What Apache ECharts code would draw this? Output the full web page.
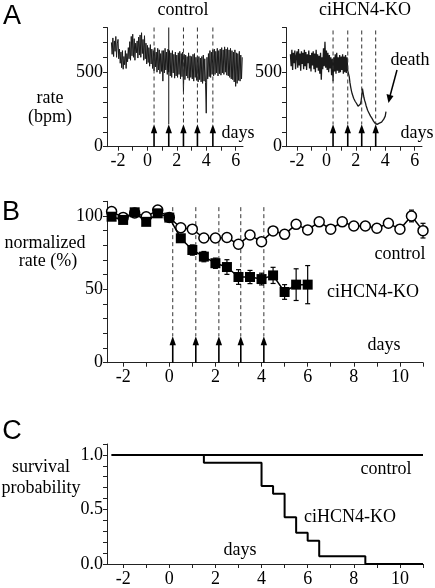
<!DOCTYPE html>
<html><head><meta charset="utf-8">
<script src="https://cdn.jsdelivr.net/npm/echarts@6/dist/echarts.min.js"></script>
<style>html,body{margin:0;padding:0;background:#fff}#c{width:435px;height:588px}</style>
</head><body><div id="c"></div>
<script>
// ---------- Panel A: raw heart-rate traces (bpm), sampled every 0.05 day from -2.45 ----------
const traceStartDay = -2.45;
const traceStepDay = 0.05;
const ctrlTrace = [
  700,620,730,605,710,640,740,600,690,720,
  590,655,560,635,530,645,520,605,550,645,
  525,625,570,665,590,705,580,740,610,755,
  600,725,580,695,630,710,595,735,615,750,
  600,765,625,720,580,745,590,695,555,680,
  565,665,540,685,555,655,525,645,510,665,
  535,635,500,660,515,650,490,625,505,645,
  440,645,495,660,515,635,485,655,500,645,
  475,630,465,645,495,620,460,635,475,615,
  465,630,485,640,455,625,470,635,370,620,
  450,615,475,605,460,630,445,610,465,605,
  455,620,440,625,465,600,445,610,435,605,
  450,595,435,605,425,615,440,590,430,225,
  600,455,625,470,645,465,635,485,650,475,
  655,485,640,495,660,475,645,490,655,480,
  665,495,650,485,670,500,655,480,665,475,
  650,465,660,455,645,450,635,435,650,405,
  630,425,625,445,640,440,615,455,600];
const koTrace = [
  620,540,650,515,630,560,645,520,610,640,
  530,655,545,625,510,640,555,630,520,650,
  540,635,515,620,560,645,525,615,505,630,
  545,640,520,625,500,650,530,620,510,610,
  490,630,450,600,520,660,540,705,530,645,
  515,630,500,615,525,600,480,590,440,600,
  505,620,490,630,510,600,495,615,500,605,
  515,620,490,605,500,615,495,600,510,520,
  470,430,400,375,355,340,325,315,305,300,
  290,282,272,268,275,285,300,340,390,360,
  330,310,295,275,260,245,235,225,215,205,
  198,190,180,172,165,158,155,152,150,153,
  155,158,160,163,165,172,178,185,195,205,235];
const ctrlArrowDays = [0.45, 1.45, 2.45, 3.4, 4.45];
const koArrowDays = [0.45, 1.45, 2.4, 3.35];

// ---------- Panel B: normalized rate (%) ----------
const bDays = [-2.5,-2,-1.5,-1,-0.5,0,0.5,1,1.5,2,2.5,3,3.5,4,4.5,5,5.5,6,6.5,7,7.5,8,8.5,9,9.5,10,10.5,11];
const bControl = [103,99,102,99.5,104,99,92,91,85,85,85.3,80.7,87,82.5,89.8,87.5,94.3,90.5,96,91,96,93.2,93.2,91.6,95,91,100,90];
const bControlErr = [2,1.5,1.5,1.5,2,1.5,2,2.5,2,2,1.5,1.5,1.5,1.5,1.5,1.5,2,2,1.5,1.5,1.5,1.5,1.5,1.5,2,2,4,5];
const bKO = [99.5,97.3,102.5,96,101.8,98.9,84.8,76.8,72.3,67.8,65.2,58.4,58.4,57,59.5,48.2,53.2,53.2];
const bKOErr = [2,1.5,1.5,2,1.5,1.5,2.5,3.5,3.5,3.5,5,5,4.5,4,5.5,5,10.8,13];
const bArrowDays = [0.15, 1.15, 2.15, 3.1, 4.1];

// ---------- Panel C: survival ----------
const cDays = [-2.5, 1.5, 4, 4.5, 5, 5.5, 6, 6.5, 8.5, 11];
const cKO = [1, 0.929, 0.714, 0.643, 0.429, 0.286, 0.214, 0.071, 0, 0];
const cControlDays = [-2.5, 11];
const cControl = [1, 1];

// tick labels
const aXLabels = [-2, 0, 2, 4, 6];
const aXTicks = [-2,-1,0,1,2,3,4,5,6];
const aYLabels = [0, 500];
const aYTicks = [0,100,200,300,400,500,600,700,800];
const bXLabels = [-2,0,2,4,6,8,10];
const bXTicks = [-2,-1,0,1,2,3,4,5,6,7,8,9,10,11];
const bYLabels = [0, 50, 100];
const bYTicks = [0,10,20,30,40,50,60,70,80,90,100,110];
const cYLabels = [0, 0.5, 1.0];
const cYTicks = [0,0.1,0.2,0.3,0.4,0.5,0.6,0.7,0.8,0.9,1.0,1.1];

const SERIF = 'Liberation Serif';
const SANS = 'Liberation Sans';
const AX = '#222';

function xAxis(gi, min, max, ticks, labels) {
  return {
    type: 'value', gridIndex: gi, min: min, max: max,
    axisLine: { show: true, onZero: false, lineStyle: { color: AX, width: 1 } },
    splitLine: { show: false },
    axisTick: { show: true, inside: false, length: 4, customValues: ticks, lineStyle: { color: AX } },
    axisLabel: { customValues: labels, fontFamily: SERIF, fontSize: 18, color: '#000', margin: 6 }
  };
}
function yAxis(gi, min, max, ticks, labels, fmt) {
  return {
    type: 'value', gridIndex: gi, min: min, max: max,
    axisLine: { show: true, onZero: false, lineStyle: { color: AX, width: 1 } },
    splitLine: { show: false },
    axisTick: { show: true, inside: false, length: 4, customValues: ticks, lineStyle: { color: AX } },
    axisLabel: { customValues: labels, fontFamily: SERIF, fontSize: 18, color: '#000', margin: 4,
      formatter: fmt || (v => String(v)) }
  };
}

function traceData(vals) {
  return vals.map((v, i) => [traceStartDay + i * traceStepDay, v]);
}

function arrowSeries(xi, days, dashTop, tipVal, solidIndex) {
  return {
    type: 'custom', xAxisIndex: xi, yAxisIndex: xi, z: 3,
    data: days.map(d => [d, 0]), encode: { x: 0, y: 1 },
    renderItem: function (params, api) {
      const x = api.value(0);
      const top = api.coord([x, dashTop]);
      const tip = api.coord([x, tipVal]);
      const base = api.coord([x, 0]);
      const solid = params.dataIndex === solidIndex;
      return { type: 'group', children: [
        { type: 'line', shape: { x1: top[0], y1: top[1], x2: tip[0], y2: tip[1] },
          style: { stroke: solid ? '#111' : '#333', lineWidth: 1, lineDash: solid ? null : [4, 3] } },
        { type: 'line', shape: { x1: base[0], y1: base[1], x2: tip[0], y2: tip[1] + 6 },
          style: { stroke: '#000', lineWidth: 1.6 } },
        { type: 'polygon', shape: { points: [[tip[0], tip[1]], [tip[0] - 3.2, tip[1] + 9], [tip[0] + 3.2, tip[1] + 9]] },
          style: { fill: '#000' } }
      ]};
    }
  };
}

function errSeries(days, vals, errs, z) {
  return {
    type: 'custom', xAxisIndex: 2, yAxisIndex: 2, z: z,
    data: vals.map((v, i) => [days[i], v - errs[i], v + errs[i]]),
    encode: { x: 0, y: [1, 2] },
    renderItem: function (params, api) {
      const x = api.value(0);
      const lo = api.coord([x, api.value(1)]);
      const hi = api.coord([x, api.value(2)]);
      const st = { stroke: '#000', lineWidth: 1.2 };
      return { type: 'group', children: [
        { type: 'line', shape: { x1: lo[0], y1: lo[1], x2: hi[0], y2: hi[1] }, style: st },
        { type: 'line', shape: { x1: lo[0] - 2.5, y1: lo[1], x2: lo[0] + 2.5, y2: lo[1] }, style: st },
        { type: 'line', shape: { x1: hi[0] - 2.5, y1: hi[1], x2: hi[0] + 2.5, y2: hi[1] }, style: st }
      ]};
    }
  };
}

function txt(s, x, y, size, fam) {
  return { type: 'text', x: x, y: y, z: 10,
    style: { text: s, fill: '#000', fontSize: size || 18, fontFamily: fam || SERIF,
      textAlign: 'center', textVerticalAlign: 'middle' } };
}

const chart = echarts.init(document.getElementById('c'), null, { renderer: 'canvas' });
chart.setOption({
  animation: false,
  backgroundColor: '#fff',
  textStyle: { fontFamily: SERIF },
  grid: [
    { left: 107, top: 27.5, width: 136, height: 119.2 },
    { left: 286, top: 27.5, width: 136, height: 119.2 },
    { left: 107, top: 201.3, width: 316, height: 161.4 },
    { left: 107, top: 444, width: 316, height: 121 }
  ],
  xAxis: [
    xAxis(0, -2.75, 6.5, aXTicks, aXLabels),
    xAxis(1, -2.75, 6.5, aXTicks, aXLabels),
    xAxis(2, -2.7, 11, bXTicks, bXLabels),
    xAxis(3, -2.7, 11, bXTicks, bXLabels)
  ],
  yAxis: [
    yAxis(0, 0, 800, aYTicks, aYLabels),
    yAxis(1, 0, 800, aYTicks, aYLabels),
    yAxis(2, 0, 110, bYTicks, bYLabels),
    yAxis(3, 0, 1.1, cYTicks, cYLabels, v => v.toFixed(1))
  ],
  series: [
    { type: 'line', xAxisIndex: 0, yAxisIndex: 0, data: traceData(ctrlTrace), showSymbol: false,
      lineStyle: { color: '#1a1a1a', width: 1 }, z: 2 },
    { type: 'line', xAxisIndex: 1, yAxisIndex: 1, data: traceData(koTrace), showSymbol: false,
      lineStyle: { color: '#1a1a1a', width: 1.3 }, z: 2 },
    arrowSeries(0, ctrlArrowDays, 800, 150, 1),
    arrowSeries(1, koArrowDays, 780, 150, -1),
    arrowSeries(2, bArrowDays, 106, 18, -1),
    errSeries(bDays, bControl, bControlErr, 2),
    { type: 'line', xAxisIndex: 2, yAxisIndex: 2, data: bDays.map((d, i) => [d, bControl[i]]),
      symbol: 'circle', symbolSize: 10, showAllSymbol: true,
      itemStyle: { color: '#fff', borderColor: '#000', borderWidth: 1.5 },
      lineStyle: { color: '#000', width: 1.5 }, z: 4 },
    errSeries(bDays, bKO, bKOErr, 5),
    { type: 'line', xAxisIndex: 2, yAxisIndex: 2, data: bKO.map((v, i) => [bDays[i], v]),
      symbol: 'rect', symbolSize: 10, showAllSymbol: true,
      itemStyle: { color: '#000' },
      lineStyle: { color: '#000', width: 1.5 }, z: 6 },
    { type: 'line', xAxisIndex: 3, yAxisIndex: 3, data: cControl.map((v, i) => [cControlDays[i], v]),
      showSymbol: false, lineStyle: { color: '#000', width: 2 } },
    { type: 'line', xAxisIndex: 3, yAxisIndex: 3, data: cKO.map((v, i) => [cDays[i], v]), step: 'end',
      showSymbol: false, lineStyle: { color: '#000', width: 2 } }
  ],
  graphic: [
    txt('A', 12, 17, 27, SANS),
    txt('control', 183, 10),
    txt('ciHCN4-KO', 365, 10),
    txt('rate', 50, 98),
    txt('(bpm)', 50, 117),
    txt('days', 238, 133),
    txt('days', 417, 133),
    txt('death', 410, 60),
    { type: 'line', shape: { x1: 397, y1: 70, x2: 390, y2: 96 }, style: { stroke: '#000', lineWidth: 1.5 } },
    { type: 'polygon', shape: { points: [[388.5, 103], [386.5, 94], [393.5, 96]] }, style: { fill: '#000' } },
    txt('B', 11, 213, 27, SANS),
    txt('normalized', 45, 243),
    txt('rate (%)', 48, 261),
    txt('control', 400, 254),
    txt('ciHCN4-KO', 373, 292),
    txt('days', 384, 345),
    txt('C', 12, 432, 27, SANS),
    txt('survival', 41, 467),
    txt('probability', 41, 488),
    txt('control', 386, 469),
    txt('ciHCN4-KO', 350, 517),
    txt('days', 240, 550)
  ]
});
</script></body></html>
